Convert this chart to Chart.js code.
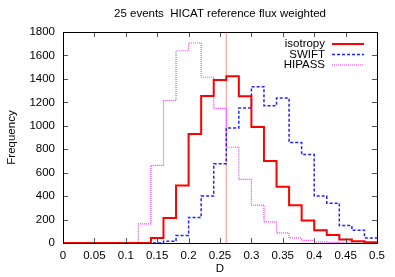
<!DOCTYPE html>
<html>
  <head>
    <title>HICAT reference flux weighted</title>
    <style>
      html, body { margin: 0; padding: 0; background: #fff; }
      #wrap { width: 395px; height: 277px; }
    </style>
  </head>
  <script src="https://cdn.jsdelivr.net/npm/chart.js@4.4.1/dist/chart.umd.min.js"></script>
  <body>
    <div id="wrap"><canvas id="myChart" width="395" height="277"></canvas></div>

    <script>
      // bin edges of D (25 bins of 0.02) and counts
      const binEdges = [0, 0.02, 0.04, 0.06, 0.08, 0.10, 0.12, 0.14, 0.16, 0.18, 0.20, 0.22, 0.24,
                        0.26, 0.28, 0.30, 0.32, 0.34, 0.36, 0.38, 0.40, 0.42, 0.44, 0.46, 0.48, 0.50]
      const isotropy = [0, 0, 0, 0, 0, 0, 0, 43, 214, 491, 929, 1254, 1391,
                        1423, 1251, 989, 700, 480, 323, 191, 109, 69, 29, 14, 6]
      const swift    = [0, 0, 0, 0, 0, 0, 0, 0, 14, 63, 217, 400, 677,
                        980, 1151, 1334, 1171, 1237, 857, 754, 400, 340, 149, 109, 43]
      const hipass   = [0, 0, 0, 0, 0, 5, 163, 663, 1214, 1640, 1706, 1414, 1149,
                        817, 543, 323, 180, 86, 43, 23, 10, 5, 2, 0, 0]
      const refD = 0.26
      const xTicks = [0, 0.05, 0.1, 0.15, 0.2, 0.25, 0.3, 0.35, 0.4, 0.45, 0.5]
      const yTicks = [0, 200, 400, 600, 800, 1000, 1200, 1400, 1600, 1800]

      const FONT = '"Liberation Sans", Arial, sans-serif'

      // step points: each bin value held from its left edge to the next edge
      function steps(vals){
        const pts = vals.map((v, i) => ({x: binEdges[i], y: v}))
        pts.push({x: binEdges[binEdges.length - 1], y: vals[vals.length - 1]})
        return pts
      }

      const series = [
        {label: 'isotropy', data: steps(isotropy), borderColor: '#ff0000', borderWidth: 2, borderDash: []},
        {label: 'SWIFT', data: steps(swift), borderColor: '#2222ff', borderWidth: 1.5, borderDash: [3, 2]},
        {label: 'HIPASS', data: steps(hipass), borderColor: '#ff33ff', borderWidth: 1.2, borderDash: [1, 1]}
      ]

      // frame, inward ticks, titles, legend
      const gnuplotLook = {
        id: 'gnuplotLook',
        afterDatasetsDraw(chart){
          const {ctx, chartArea: a, scales} = chart
          ctx.save()
          ctx.strokeStyle = '#000'
          ctx.lineWidth = 1
          ctx.beginPath()
          xTicks.forEach(t => {
            const px = Math.round(scales.x.getPixelForValue(t)) + 0.5
            ctx.moveTo(px, a.bottom); ctx.lineTo(px, a.bottom - 5)
            ctx.moveTo(px, a.top); ctx.lineTo(px, a.top + 5)
          })
          yTicks.forEach(t => {
            const py = Math.round(scales.y.getPixelForValue(t)) + 0.5
            ctx.moveTo(a.left, py); ctx.lineTo(a.left + 5, py)
            ctx.moveTo(a.right, py); ctx.lineTo(a.right - 5, py)
          })
          ctx.strokeStyle = '#555'
          ctx.stroke()
          ctx.strokeStyle = '#000'
          ctx.strokeRect(Math.round(a.left) + 0.5, Math.round(a.top) + 0.5,
                         Math.round(a.right - a.left), Math.round(a.bottom - a.top))
          ctx.restore()
        },
        afterDraw(chart){
          const {ctx, chartArea: a} = chart
          ctx.save()
          ctx.fillStyle = '#000'
          ctx.font = '11.5px ' + FONT
          ctx.textAlign = 'center'
          ctx.textBaseline = 'middle'
          ctx.fillText('25 events  HICAT reference flux weighted', (a.left + a.right) / 2, 14)
          ctx.fillText('D', (a.left + a.right) / 2, 269)
          ctx.save()
          ctx.translate(12, (a.top + a.bottom) / 2)
          ctx.rotate(-Math.PI / 2)
          ctx.fillText('Frequency', 0, 0)
          ctx.restore()

          ctx.textAlign = 'right'
          series.forEach((s, i) => {
            const y = a.top + 12 + i * 10.5
            ctx.fillStyle = '#000'
            ctx.fillText(s.label, a.right - 52, y)
            ctx.strokeStyle = s.borderColor
            ctx.lineWidth = s.borderWidth
            ctx.setLineDash(s.borderDash)
            ctx.beginPath()
            ctx.moveTo(a.right - 45, y); ctx.lineTo(a.right - 13, y)
            ctx.stroke()
          })
          ctx.restore()
        }
      }

      new Chart('myChart', {
        type: 'line',
        data: {
          datasets: [
            ...series.map(s => ({
              label: s.label,
              data: s.data,
              borderColor: s.borderColor,
              borderWidth: s.borderWidth,
              borderDash: s.borderDash,
              stepped: 'before',
              pointRadius: 0,
              fill: false,
              clip: 0
            })),
            {
              label: 'reference',
              data: [{x: refD, y: 0}, {x: refD, y: 1800}],
              borderColor: '#ff9090',
              borderWidth: 1,
              pointRadius: 0,
              clip: 0
            }
          ]
        },
        plugins: [gnuplotLook],
        options: {
          responsive: false,
          animation: false,
          layout: {padding: {top: 32, right: 18, left: 0, bottom: 0}},
          plugins: {
            legend: {display: false},
            title: {display: false},
            tooltip: {enabled: false}
          },
          scales: {
            x: {
              type: 'linear',
              min: 0,
              max: 0.5,
              grid: {display: false, drawTicks: false},
              border: {display: false},
              afterFit: s => { s.height = 34 },
              afterBuildTicks: s => { s.ticks = xTicks.map(v => ({value: v})) },
              ticks: {
                padding: 6,
                color: '#000',
                font: {family: FONT, size: 11.5},
                maxRotation: 0,
                autoSkip: false,
                callback: v => String(+v.toFixed(2))
              }
            },
            y: {
              min: 0,
              max: 1800,
              grid: {display: false, drawTicks: false},
              border: {display: false},
              afterFit: s => { s.width = 63 },
              afterBuildTicks: s => { s.ticks = yTicks.map(v => ({value: v})) },
              ticks: {
                padding: 8,
                color: '#000',
                font: {family: FONT, size: 11.5},
                callback: v => String(v)
              }
            }
          }
        }
      })
    </script>
  </body>
</html>
